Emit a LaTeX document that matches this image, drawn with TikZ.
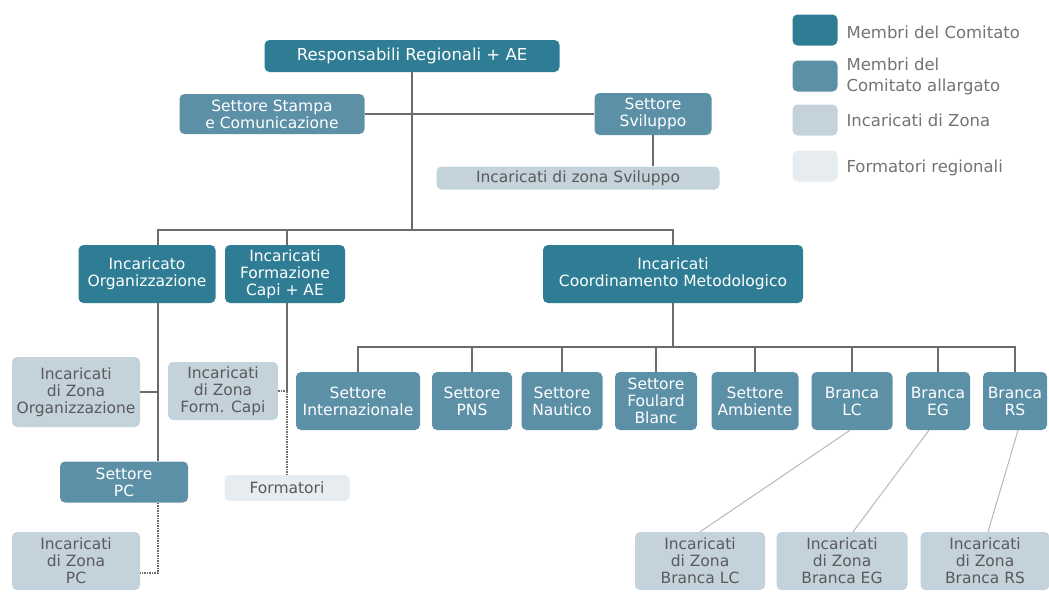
\documentclass[tikz,border=0pt]{standalone}
\usepackage{fontspec}
\setmainfont{DejaVu Sans}
\definecolor{comitato}{HTML}{2F7D94}
\definecolor{allargato}{HTML}{5C90A7}
\definecolor{zona}{HTML}{C4D2DC}
\definecolor{formreg}{HTML}{E6ECF0}
\definecolor{linea}{HTML}{6B6B6B}
\definecolor{testo}{HTML}{5A5A5A}
\tikzset{Box/.style={rectangle, rounded corners=5pt, align=center, inner sep=1pt, font=\fontsize{15.5}{17}\selectfont}}
\tikzset{Comitato/.style={Box, fill=comitato, text=white}}
\tikzset{Allargato/.style={Box, fill=allargato, text=white}}
\tikzset{Zona/.style={Box, fill=zona, text=testo}}
\tikzset{Formreg/.style={Box, fill=formreg, text=testo}}

\begin{document}
\begin{tikzpicture}[x=1pt, y=-1pt, Conn/.style={draw=linea, line width=1.6pt}, Dots/.style={draw=linea, line width=1.5pt, densely dotted}, Thin/.style={draw=black!30, line width=0.9pt}, Legend/.style={anchor=west, align=left, text=black!55, font=\fontsize{16.5}{21}\selectfont}]
        \useasboundingbox (0,0) rectangle (1049,592);
        % \draw[help lines, gray] (0,0) grid[step=50] (1049,592);
        \node[Comitato, minimum width=295pt, minimum height=32pt, font=\fontsize{16.5}{18}\selectfont] (resp) at (412,56){Responsabili Regionali + AE};
        \node[Allargato, minimum width=185pt, minimum height=40pt] (stampa) at (272,114){Settore Stampa\\e Comunicazione};
        \node[Allargato, minimum width=117pt, minimum height=42pt] (sviluppo) at (653,114){Settore\\Sviluppo};
        \node[Zona, minimum width=283pt, minimum height=23pt] (izsvil) at (578,178){Incaricati di zona Sviluppo};
        \node[Comitato, minimum width=137pt, minimum height=58pt] (org) at (147,274){Incaricato\\Organizzazione};
        \node[Comitato, minimum width=120pt, minimum height=58pt] (fcapi) at (285,274){Incaricati\\Formazione\\Capi + AE};
        \node[Comitato, minimum width=260pt, minimum height=58pt] (coord) at (673,274){Incaricati\\Coordinamento Metodologico};

        \node[Allargato, minimum width=124pt, minimum height=58pt] (intern) at (358,401){Settore\\Internazionale};
        \node[Allargato, minimum width=80pt, minimum height=58pt] (pns) at (472,401){Settore\\PNS};
        \node[Allargato, minimum width=81pt, minimum height=58pt] (naut) at (562,401){Settore\\Nautico};
        \node[Allargato, minimum width=82pt, minimum height=58pt] (foul) at (656,401){Settore\\Foulard\\Blanc};
        \node[Allargato, minimum width=87pt, minimum height=58pt] (amb) at (755,401){Settore\\Ambiente};
        \node[Allargato, minimum width=81pt, minimum height=58pt] (lc) at (852,401){Branca\\LC};
        \node[Allargato, minimum width=64pt, minimum height=58pt] (eg) at (938,401){Branca\\EG};
        \node[Allargato, minimum width=64pt, minimum height=58pt] (rs) at (1015,401){Branca\\RS};

        \node[Zona, minimum width=128pt, minimum height=70pt] (izorg) at (76,392){Incaricati\\di Zona\\Organizzazione};
        \node[Zona, minimum width=110pt, minimum height=58pt] (izfc) at (223,391){Incaricati\\di Zona\\Form. Capi};
        \node[Allargato, minimum width=128pt, minimum height=41pt] (pc) at (124,482){Settore\\PC};
        \node[Formreg, minimum width=125pt, minimum height=26pt] (formatori) at (287,488){Formatori};
        \node[Zona, minimum width=128pt, minimum height=58pt] (izpc) at (76,561){Incaricati\\di Zona\\PC};
        \node[Zona, minimum width=130pt, minimum height=58pt] (izlc) at (700,561){Incaricati\\di Zona\\Branca LC};
        \node[Zona, minimum width=131pt, minimum height=58pt] (izeg) at (842,561){Incaricati\\di Zona\\Branca EG};
        \node[Zona, minimum width=129pt, minimum height=58pt] (izrs) at (985,561){Incaricati\\di Zona\\Branca RS};

        % legenda
        \node[Comitato, minimum width=45pt, minimum height=31pt] (k1) at (815,30){};
        \node[Allargato, minimum width=45pt, minimum height=31pt] (k2) at (815,76){};
        \node[Zona, minimum width=45pt, minimum height=31pt] (k3) at (815,120){};
        \node[Formreg, minimum width=45pt, minimum height=31pt] (k4) at (815,166){};
        \node[Legend] (t1) at (843,32){Membri del Comitato};
        \node[Legend] (t2) at (843,76){Membri del\\Comitato allargato};
        \node[Legend] (t3) at (843,120){Incaricati di Zona};
        \node[Legend] (t4) at (843,168){Formatori regionali};

        \coordinate (bus) at (412,230);
        \coordinate (mbus) at (673,347);
        \coordinate (jorg) at (158,392);
        \coordinate (jfc) at (287,391);
        \coordinate (jpc) at (158,573);

        \draw[Conn] (stampa.east) -- (sviluppo.west);
        \draw[Conn] (resp.south) -- (bus);
        \draw[Conn] (sviluppo.south) -- (sviluppo.south |- izsvil.north);
        \draw[Conn] ([xshift=11pt]org.north) |- (bus) -| (coord.north);
        \draw[Conn] ([xshift=2pt]fcapi.north) -- ([xshift=2pt]fcapi.north |- bus);
        \draw[Conn] (coord.south) -- (mbus);
        \draw[Conn] (intern.north) |- (mbus) -| (rs.north);
        \foreach \n in {pns,naut,foul,amb,lc,eg}
            \draw[Conn] (\n.north) -- (\n.north |- mbus);
        \draw[Conn] ([xshift=11pt]org.south) -- ([xshift=34pt]pc.north);
        \draw[Conn] (izorg.east) -- (jorg);
        \draw[Conn] ([xshift=2pt]fcapi.south) -- (jfc);
        \draw[Dots] (izfc.east) -- (jfc);
        \draw[Dots] (jfc) -- (jfc |- formatori.north);
        \draw[Dots] ([xshift=34pt]pc.south) -- (jpc) -- (jpc -| izpc.east);
        \draw[Thin] ([xshift=-2pt]lc.south) -- (izlc.north);
        \draw[Thin] ([xshift=-9pt]eg.south) -- ([xshift=11pt]izeg.north);
        \draw[Thin] ([xshift=3pt]rs.south) -- ([xshift=3pt]izrs.north);

    \end{tikzpicture}
\end{document}
